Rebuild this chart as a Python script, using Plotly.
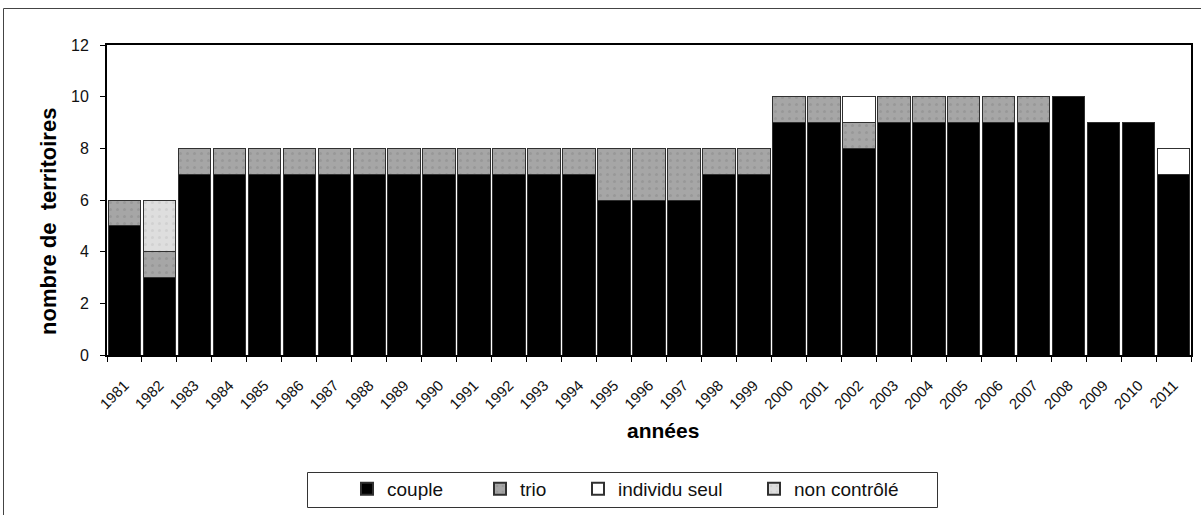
import plotly.graph_objects as go

years = [str(y) for y in range(1981, 2012)]
couple = [5, 3, 7, 7, 7, 7, 7, 7, 7, 7, 7, 7, 7, 7, 6, 6, 6, 7, 7, 9, 9, 8, 9, 9, 9, 9, 9, 10, 9, 9, 7]
trio = [1, 1, 1, 1, 1, 1, 1, 1, 1, 1, 1, 1, 1, 1, 2, 2, 2, 1, 1, 1, 1, 1, 1, 1, 1, 1, 1, 0, 0, 0, 0]
individu_seul = [0, 0, 0, 0, 0, 0, 0, 0, 0, 0, 0, 0, 0, 0, 0, 0, 0, 0, 0, 0, 0, 1, 0, 0, 0, 0, 0, 0, 0, 0, 1]
non_controle = [0, 2, 0, 0, 0, 0, 0, 0, 0, 0, 0, 0, 0, 0, 0, 0, 0, 0, 0, 0, 0, 0, 0, 0, 0, 0, 0, 0, 0, 0, 0]
y_ticks = [0, 2, 4, 6, 8, 10, 12]

FONT = "Liberation Sans, Arial, sans-serif"
W, H = 1201, 515
L, R, T, B = 107, 10, 45, 160
PW, PH = W - L - R, H - T - B


def px_x(p):
    return (p - L) / PW


def px_y(p):
    return (H - B - p) / PH


def nz(a):
    return [v if v else None for v in a]


series = [
    ("couple", couple, "#000000", None, 88),
    ("trio", trio, "#a6a6a6", "#8a8a8a", 53),
    ("individu seul", individu_seul, "#ffffff", None, 131),
    ("non contrôlé", non_controle, "#dedede", "#c4c4c4", 125),
]

fig = go.Figure()
for name, vals, col, dot, lw in series:
    marker = dict(color=col, line=dict(color="#303030", width=1))
    if dot:
        marker["pattern"] = dict(shape=".", fgcolor=dot, bgcolor=col, size=7, solidity=0.15)
    fig.add_trace(go.Bar(x=years, y=nz(vals), name=name, marker=marker, legendwidth=lw))

fig.update_layout(
    width=W, height=H,
    barmode="stack", bargap=0.07,
    plot_bgcolor="white", paper_bgcolor="white",
    margin=dict(l=L, r=R, t=T, b=B, autoexpand=False),
    font=dict(family=FONT, color="#111111"),
    showlegend=True,
    legend=dict(orientation="h", x=px_x(347), xanchor="left", y=px_y(470), yanchor="top",
                borderwidth=0, bgcolor="rgba(0,0,0,0)", font=dict(size=19, family=FONT),
                traceorder="normal", itemsizing="constant"),
    xaxis=dict(type="category", tickangle=-45, tickson="boundaries", ticks="outside",
               ticklen=5, tickcolor="#000", showline=True, linecolor="#000", linewidth=1.5,
               mirror=True, showgrid=False, tickfont=dict(size=15, family=FONT),
               ticklabelstandoff=14, automargin=False),
    yaxis=dict(range=[0, 12], tickvals=y_ticks, ticks="outside", ticklen=5, tickcolor="#000",
               showline=True, linecolor="#000", linewidth=2, mirror=True, showgrid=False,
               zeroline=False, tickfont=dict(size=16, family=FONT), ticklabelstandoff=8,
               automargin=False),
    annotations=[
        dict(text="<b>années</b>", x=px_x(663), y=px_y(430), xref="paper", yref="paper",
             xanchor="center", yanchor="middle",
             showarrow=False, font=dict(size=21, family=FONT, color="#000")),
        dict(text="<b>nombre de  territoires</b>", x=px_x(48), y=px_y(222), xref="paper",
             yref="paper", xanchor="center", yanchor="middle", textangle=-90, showarrow=False,
             font=dict(size=22, family=FONT, color="#000")),
    ],
    shapes=[
        dict(type="rect", xref="paper", yref="paper", x0=px_x(3.5), x1=px_x(1215),
             y0=px_y(540), y1=px_y(8.5), line=dict(color="#444444", width=1), layer="below"),
        dict(type="rect", xref="paper", yref="paper", x0=px_x(307.5), x1=px_x(937.5),
             y0=px_y(507.5), y1=px_y(472.5), line=dict(color="#333333", width=1), layer="below"),
    ],
)

fig.write_html("out.html", post_script="document.body.style.margin='0';",
               config={"displayModeBar": False})
